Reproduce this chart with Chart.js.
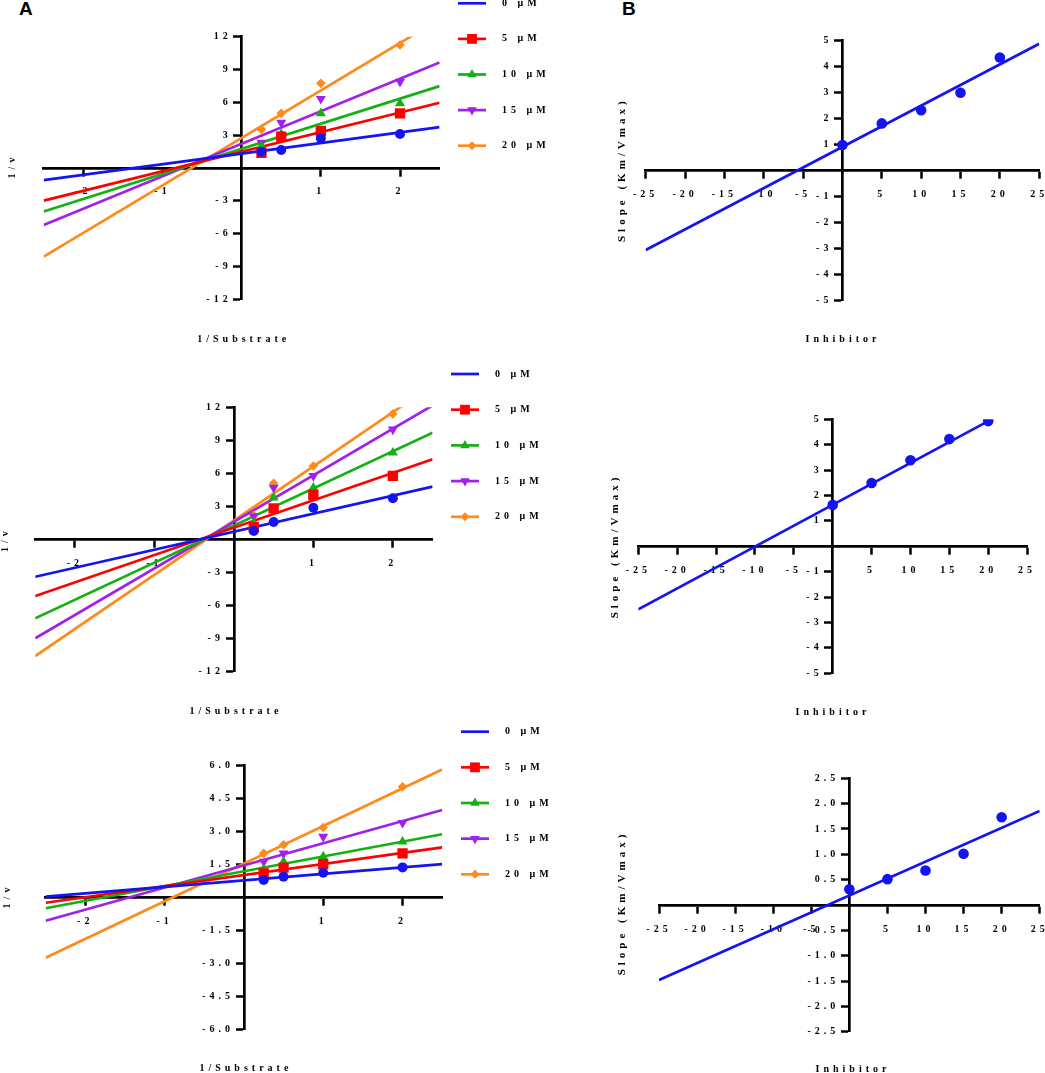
<!DOCTYPE html>
<html>
<head>
<meta charset="utf-8">
<script src="https://cdn.jsdelivr.net/npm/chart.js@4.4.1/dist/chart.umd.min.js"></script>
<style>
html,body{margin:0;padding:0;background:#fff;}
body{width:1045px;height:1073px;position:relative;overflow:hidden;}
canvas{position:absolute;display:block;}
.letter{position:absolute;font:bold 19px "Liberation Sans", Arial, sans-serif;color:#000;line-height:1;}
</style>
</head>
<body>
<div class="letter" style="left:19px;top:-1px">A</div>
<div class="letter" style="left:622px;top:-1px">B</div>
<canvas id="cA1" width="575" height="360" style="left:0px;top:0px;width:575px;height:360px"></canvas>
<canvas id="cA2" width="575" height="365" style="left:0px;top:355px;width:575px;height:365px"></canvas>
<canvas id="cA3" width="575" height="358" style="left:0px;top:715px;width:575px;height:358px"></canvas>
<canvas id="cB1" width="465" height="360" style="left:580px;top:0px;width:465px;height:360px"></canvas>
<canvas id="cB2" width="465" height="365" style="left:580px;top:355px;width:465px;height:365px"></canvas>
<canvas id="cB3" width="465" height="358" style="left:580px;top:715px;width:465px;height:358px"></canvas>
<script>
// ---------------- DATA ----------------
const seriesLabels = ['0 μM', '5 μM', '10 μM', '15 μM', '20 μM'];
const substrateX = [0.25, 0.5, 1, 2];
const fitXA = [-2.5, 2.5];

// Panel A (top)
const a1_0uM  = [1.47, 1.63, 2.70, 3.09];
const a1_5uM  = [1.38, 2.85, 3.39, 4.99];
const a1_10uM = [2.00, 3.10, 4.99, 5.90];
const a1_15uM = [2.30, 4.13, 6.32, 7.88];
const a1_20uM = [3.52, 4.99, 7.73, 11.24];
const a1FitStart = [-1.12, -3.00, -4.00, -5.23, -8.13];
const a1FitEnd   = [3.73, 5.96, 7.48, 9.65, 13.60];

// Panel A (middle)
const a2_0uM  = [0.77, 1.59, 2.89, 3.74];
const a2_5uM  = [1.11, 2.83, 4.04, 5.77];
const a2_10uM = [1.56, 3.80, 4.70, 7.88];
const a2_15uM = [2.13, 4.70, 5.77, 10.00];
const a2_20uM = [2.20, 5.10, 6.67, 11.40];
const a2FitStart = [-3.38, -5.13, -7.16, -8.97, -10.58];
const a2FitEnd   = [4.80, 7.28, 9.70, 12.17, 14.02];

// Panel A (bottom)
const a3_0uM  = [0.80, 0.95, 1.13, 1.37];
const a3_5uM  = [1.10, 1.36, 1.52, 2.01];
const a3_10uM = [1.30, 1.63, 1.86, 2.54];
const a3_15uM = [1.63, 2.01, 2.77, 3.40];
const a3_20uM = [2.01, 2.40, 3.19, 5.04];
const a3FitStart = [0.04, -0.24, -0.49, -1.06, -2.74];
const a3FitEnd   = [1.52, 2.28, 2.88, 3.98, 5.83];

// Panels B (secondary plots)
const inhibitorX = [0, 5, 10, 15, 20];
const b1Slope = [0.98, 1.81, 2.32, 2.99, 4.35];
const b2Slope = [1.63, 2.49, 3.39, 4.22, 4.93];
const b3Slope = [0.31, 0.51, 0.68, 1.01, 1.73];
const b1FitX = [-25, 25];
const b1FitY = [-3.07, 4.88];
const b2FitX = [-25, 20];
const b2FitY = [-2.48, 4.93];
const b3FitX = [-25, 25];
const b3FitY = [-1.48, 1.855];

// Tick labels
const xTicksA = [-2, -1, 1, 2];
const yTicksA1 = [-12, -9, -6, -3, 3, 6, 9, 12];
const yTicksA2 = [-12, -9, -6, -3, 3, 6, 9, 12];
const yTicksA3 = [-6, -4.5, -3, -1.5, 1.5, 3, 4.5, 6];
const xTicksB = [-25, -20, -15, -10, -5, 5, 10, 15, 20, 25];
const yTicksB1 = [-5, -4, -3, -2, -1, 1, 2, 3, 4, 5];
const yTicksB2 = [-5, -4, -3, -2, -1, 1, 2, 3, 4, 5];
const yTicksB3 = [-2.5, -2, -1.5, -1, -0.5, 0.5, 1, 1.5, 2, 2.5];

// ---------------- STYLE ----------------
const FONT = '"Liberation Serif", "Times New Roman", serif';
const LS = 4;
const seriesColors = ['#1414f2', '#ff0000', '#14b014', '#a020ee', '#ff8a1c'];
const seriesStyles = [
  {pointStyle: 'circle', radius: 5, rotation: 0, legend: false},
  {pointStyle: 'rect', radius: 7.3, rotation: 0, legend: true},
  {pointStyle: 'triangle', radius: 5.8, rotation: 0, legend: true},
  {pointStyle: 'triangle', radius: 5.8, rotation: 180, legend: true},
  {pointStyle: 'rectRot', radius: 4.8, rotation: 0, legend: true}
];

function pts(xs, ys) { return xs.map((x, i) => ({x: x, y: ys[i]})); }

function buildA(series, fitStart, fitEnd) {
  const ds = [];
  series.forEach((vals, i) => {
    ds.push({
      type: 'line', label: seriesLabels[i] + ' fit',
      data: pts(fitXA, [fitStart[i], fitEnd[i]]),
      borderColor: seriesColors[i], borderWidth: 2.7, pointRadius: 0,
      fill: false, tension: 0, order: 1
    });
  });
  series.forEach((vals, i) => {
    const st = seriesStyles[i];
    ds.push({
      type: 'scatter', label: seriesLabels[i],
      data: pts(substrateX, vals),
      backgroundColor: seriesColors[i], borderColor: seriesColors[i],
      borderWidth: 0, pointStyle: st.pointStyle, pointRadius: st.radius,
      pointRotation: st.rotation, showLine: false, order: 0
    });
  });
  return ds;
}

function buildB(vals, fx, fy) {
  return [
    {type: 'line', label: 'fit', data: pts(fx, fy), borderColor: '#1414f2',
     borderWidth: 2.7, pointRadius: 0, fill: false, order: 1},
    {type: 'scatter', label: 'Slope', data: pts(inhibitorX, vals),
     backgroundColor: '#1414f2', borderColor: '#1414f2', borderWidth: 0,
     pointStyle: 'circle', pointRadius: 5.3, showLine: false, order: 0}
  ];
}

const panels = [
  {id: 'cA1', left: 0, top: 0, w: 575, h: 360, area: [43.7, 36.7, 439.6, 299],
   xr: [-2.5, 2.5], yr: [-12, 12], xt: xTicksA, yt: yTicksA1, xd: 0, yd: 0,
   datasets: buildA([a1_0uM, a1_5uM, a1_10uM, a1_15uM, a1_20uM], a1FitStart, a1FitEnd),
   xTitle: '1/Substrate', yTitle: '1/v', xTitlePos: [241.7, 339], yTitlePos: [12.6, 168], ySize: 10,
   legend: {x1: 458, x2: 486, tx: 502, y0: 3.3, dy: 35.6}},
  {id: 'cA2', left: 0, top: 355, w: 575, h: 365, area: [35.2, 407.3, 432.6, 671.7],
   xr: [-2.5, 2.5], yr: [-12, 12], xt: xTicksA, yt: yTicksA2, xd: 0, yd: 0,
   datasets: buildA([a2_0uM, a2_5uM, a2_10uM, a2_15uM, a2_20uM], a2FitStart, a2FitEnd),
   xTitle: '1/Substrate', yTitle: '1/v', xTitlePos: [233.9, 711.7], yTitlePos: [5.8, 541.7], ySize: 10,
   legend: {x1: 451, x2: 479, tx: 495, y0: 374, dy: 35.7}},
  {id: 'cA3', left: 0, top: 715, w: 575, h: 358, area: [45.6, 765.7, 442.2, 1029.3],
   xr: [-2.5, 2.5], yr: [-6, 6], xt: xTicksA, yt: yTicksA3, xd: 0, yd: 1,
   datasets: buildA([a3_0uM, a3_5uM, a3_10uM, a3_15uM, a3_20uM], a3FitStart, a3FitEnd),
   xTitle: '1/Substrate', yTitle: '1/v', xTitlePos: [243.9, 1068.3], yTitlePos: [7.9, 898], ySize: 10,
   legend: {x1: 461, x2: 489, tx: 505, y0: 731.7, dy: 35.65}},
  {id: 'cB1', left: 580, top: 0, w: 465, h: 360, area: [645.7, 40.7, 1039.2, 300],
   xr: [-25, 25], yr: [-5, 5], xt: xTicksB, yt: yTicksB1, xd: 0, yd: 0,
   datasets: buildB(b1Slope, b1FitX, b1FitY),
   xTitle: 'Inhibitor', yTitle: 'Slope (Km/Vmax)', xTitlePos: [841, 339], yTitlePos: [622.1, 171.7], ySize: 11},
  {id: 'cB2', left: 580, top: 355, w: 465, h: 365, area: [638.3, 419.3, 1027.1, 673.3],
   xr: [-25, 25], yr: [-5, 5], xt: xTicksB, yt: yTicksB2, xd: 0, yd: 0,
   datasets: buildB(b2Slope, b2FitX, b2FitY),
   xTitle: 'Inhibitor', yTitle: 'Slope (Km/Vmax)', xTitlePos: [831, 712.3], yTitlePos: [615.4, 548], ySize: 11},
  {id: 'cB3', left: 580, top: 715, w: 465, h: 358, area: [659, 778.3, 1041, 1031.7],
   xr: [-25, 25], yr: [-2.5, 2.5], xt: xTicksB, yt: yTicksB3, xd: 0, yd: 1,
   datasets: buildB(b3Slope, b3FitX, b3FitY),
   xTitle: 'Inhibitor', yTitle: 'Slope (Km/Vmax)', xTitlePos: [851, 1069], yTitlePos: [622, 905], ySize: 11}
];

// ---------------- PLUGINS ----------------
const spacingPlugin = {
  id: 'spacing',
  beforeUpdate(chart) { chart.ctx.letterSpacing = LS + 'px'; },
  beforeLayout(chart) { chart.ctx.letterSpacing = LS + 'px'; },
  beforeDraw(chart) {
    chart.ctx.letterSpacing = LS + 'px';
    // make sure y tick labels sit to the left of the tick marks
    const ys = chart.scales.y, xs = chart.scales.x;
    const axisPx = xs.getPixelForValue(0);
    const off = ys.options.grid.tickLength + ys.options.ticks.padding;
    const items = ys.getLabelItems(chart.chartArea);
    items.forEach(it => {
      const t = it.options.translation;
      if (Math.abs(t[0] - axisPx) < 1.5) t[0] = axisPx - off;
      it.options.textAlign = 'right';
    });
  }
};

const decorPlugin = {
  id: 'decor',
  afterDraw(chart, args, opts) {
    const p = opts.panel;
    const ctx = chart.ctx;
    ctx.save();
    ctx.letterSpacing = LS + 'px';
    ctx.fillStyle = '#000';
    ctx.font = 'bold 10px ' + FONT;
    ctx.textBaseline = 'middle';
    ctx.textAlign = 'center';
    // x title
    ctx.fillText(p.xTitle, p.xTitlePos[0] - p.left + LS / 2, p.xTitlePos[1] - p.top);
    // y title
    ctx.save();
    ctx.font = 'bold ' + p.ySize + 'px ' + FONT;
    ctx.translate(p.yTitlePos[0] - p.left, p.yTitlePos[1] - p.top);
    ctx.rotate(-Math.PI / 2);
    ctx.fillText(p.yTitle, LS / 2, 0);
    ctx.restore();
    // legend
    if (p.legend) {
      const L = p.legend;
      seriesLabels.forEach((lab, i) => {
        const y = L.y0 + i * L.dy - p.top;
        ctx.strokeStyle = seriesColors[i];
        ctx.fillStyle = seriesColors[i];
        ctx.lineWidth = 2.7;
        ctx.beginPath();
        ctx.moveTo(L.x1 - p.left, y);
        ctx.lineTo(L.x2 - p.left, y);
        ctx.stroke();
        const st = seriesStyles[i];
        if (st.legend) {
          Chart.helpers.drawPoint(ctx, {pointStyle: st.pointStyle, radius: st.radius * 0.95,
            rotation: st.rotation, borderWidth: 0}, (L.x1 + L.x2) / 2 - p.left, y);
        }
        ctx.fillStyle = '#000';
        ctx.textAlign = 'left';
        ctx.fillText(lab, L.tx - p.left, y);
      });
    }
    ctx.restore();
  }
};

function fmt(d) { return v => (v === 0 ? '' : Number(v).toFixed(d)); }
function noPad(s) { s.paddingLeft = 0; s.paddingRight = 0; s.paddingTop = 0; s.paddingBottom = 0; }

panels.forEach(p => {
  const el = document.getElementById(p.id);
  const pad = {
    left: p.area[0] - p.left,
    top: p.area[1] - p.top,
    right: p.left + p.w - p.area[2],
    bottom: p.top + p.h - p.area[3]
  };
  const tickFont = {family: FONT, size: 10, weight: 'bold'};
  new Chart(el, {
    type: 'scatter',
    data: {datasets: p.datasets},
    options: {
      responsive: false,
      animation: false,
      events: [],
      devicePixelRatio: 1,
      layout: {padding: pad},
      plugins: {
        legend: {display: false},
        tooltip: {enabled: false},
        decor: {panel: p}
      },
      scales: {
        x: {
          type: 'linear', min: p.xr[0], max: p.xr[1],
          position: {y: 0},
          afterFit(s) { s.height = 0; noPad(s); },
          afterBuildTicks(s) { s.ticks = p.xt.map(v => ({value: v})); },
          ticks: {callback: fmt(p.xd), font: tickFont, color: '#000', padding: 11,
                  maxRotation: 0, minRotation: 0, autoSkip: false},
          grid: {display: true, drawOnChartArea: false, drawTicks: true, tickLength: 7,
                 tickWidth: 2.5, tickColor: '#000', color: '#000'},
          border: {display: true, color: '#000', width: 2.7}
        },
        y: {
          type: 'linear', min: p.yr[0], max: p.yr[1],
          position: {x: 0},
          afterFit(s) { s.width = 0; noPad(s); },
          afterBuildTicks(s) { s.ticks = p.yt.map(v => ({value: v})); },
          ticks: {callback: fmt(p.yd), font: tickFont, color: '#000', padding: 3,
                  autoSkip: false},
          grid: {display: true, drawOnChartArea: false, drawTicks: true, tickLength: 7,
                 tickWidth: 2.5, tickColor: '#000', color: '#000'},
          border: {display: true, color: '#000', width: 2.7}
        }
      }
    },
    plugins: [spacingPlugin, decorPlugin]
  });
});
</script>
</body>
</html>
